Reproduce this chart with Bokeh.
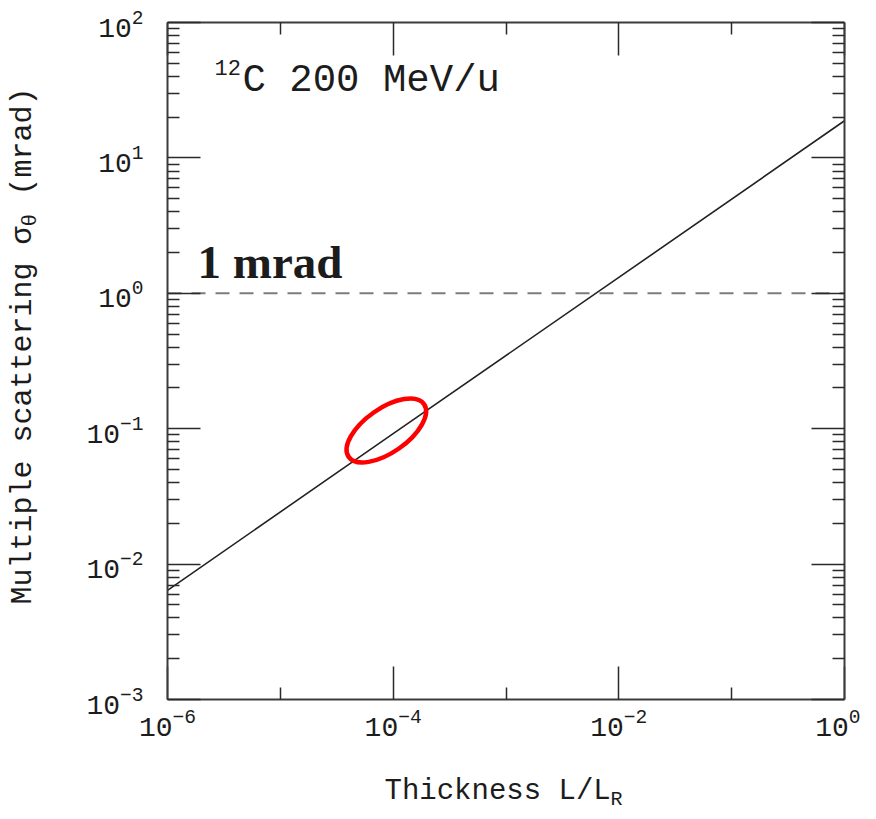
import math
from bokeh.plotting import figure
from bokeh.models import LogAxis, FixedTicker, Label, Range1d, CustomJSTickFormatter
from bokeh.embed import file_html
from bokeh.resources import INLINE

# ---------------- data ----------------
thickness = [1e-6, 1e-4, 1e-2, 1.0]          # L / L_R
sigma_theta = [0.0064, 0.092, 1.31, 18.8]    # multiple scattering (mrad)
ref_level = 1.0                               # 1 mrad reference line
highlight_x = [8.7e-5]                        # red ellipse centre
highlight_y = [0.097]

x_limits = (1e-6, 1.0)
y_limits = (1e-3, 1e2)
x_major_ticks = [1e-6, 1e-4, 1e-2, 1e0]
x_minor_ticks = [1e-5, 1e-3, 1e-1]
y_major_ticks = [1e-3, 1e-2, 1e-1, 1e0, 1e1, 1e2]
y_minor_ticks = [k * t for t in y_major_ticks[:-1] for k in range(2, 10)]

isotope_mass = "12"
beam_text = "C 200 MeV/u"
ref_text = "1 mrad"
x_label_main = "Thickness L/L"
x_label_sub = "R"
y_label_main = "Multiple scattering \u03c3"
y_label_sub = "\u03b8"
y_label_tail = "(mrad)"

MONO = "Liberation Mono"
INK = "#1c1c1c"

# ---------------- layout (pixels) ----------------
W, H = 860, 810
BOX_L, BOX_R, BOX_T, BOX_B = 167, 844, 22, 699   # plot box inside the canvas

x0, x1 = x_limits
y0, y1 = y_limits
lx0, lx1 = math.log10(x0), math.log10(x1)
ly0, ly1 = math.log10(y0), math.log10(y1)
dpx = (lx1 - lx0) / (BOX_R - BOX_L)
dpy = (ly1 - ly0) / (BOX_B - BOX_T)
x_view = (10 ** (lx0 - BOX_L * dpx), 10 ** (lx1 + (W - BOX_R) * dpx))
y_view = (10 ** (ly0 - (H - BOX_B) * dpy), 10 ** (ly1 + BOX_T * dpy))

p = figure(width=W, height=H,
           x_axis_type="log", y_axis_type="log",
           x_axis_location=None, y_axis_location=None,
           x_range=Range1d(*x_view), y_range=Range1d(*y_view),
           output_backend="svg", toolbar_location=None, min_border=0)
p.grid.visible = False
p.outline_line_color = None
p.background_fill_color = "white"
p.border_fill_color = "white"


def make_axis(ticker, fixed, bounds, show_labels, standoff=0):
    ax = LogAxis(fixed_location=fixed, bounds=bounds, ticker=ticker)
    ax.axis_line_color = "#3c3c3c"
    ax.axis_line_width = 2
    ax.major_tick_line_color = "#2a2a2a"
    ax.major_tick_line_width = 1.5
    ax.minor_tick_line_color = "#2a2a2a"
    ax.minor_tick_line_width = 1.5
    ax.major_tick_in = 33
    ax.major_tick_out = 0
    ax.minor_tick_in = 12
    ax.minor_tick_out = 0
    if show_labels:
        ax.major_label_text_font = MONO
        ax.major_label_text_font_size = "28px"
        ax.major_label_text_color = INK
        ax.major_label_standoff = standoff
    else:
        ax.formatter = CustomJSTickFormatter(code="return ''")
        ax.major_label_text_font_size = "1px"
        ax.major_label_standoff = 0
    return ax


p.add_layout(make_axis(FixedTicker(ticks=x_major_ticks, minor_ticks=x_minor_ticks),
                       y0, x_limits, True, 8), "below")
p.add_layout(make_axis(FixedTicker(ticks=y_major_ticks, minor_ticks=y_minor_ticks),
                       x0, y_limits, True, 24), "left")
p.add_layout(make_axis(FixedTicker(ticks=x_major_ticks, minor_ticks=x_minor_ticks),
                       y1, x_limits, False), "above")
p.add_layout(make_axis(FixedTicker(ticks=y_major_ticks, minor_ticks=y_minor_ticks),
                       x1, y_limits, False), "right")

# reference 1 mrad dashed line across the box
p.line([x0, x1], [ref_level, ref_level], line_color="#7c7c7c",
       line_width=2, line_dash="14 10")

# scattering curve
p.line(thickness, sigma_theta, line_color="#222222", line_width=1.6)

# red highlight ellipse
p.ellipse(x=highlight_x, y=highlight_y, width=92, height=44,
          width_units="screen", height_units="screen",
          angle=35, angle_units="deg",
          fill_color=None, line_color="#ff0000", line_width=4.5)


def add_text(text, x, y, dx, dy, font, size, style="normal", angle=0):
    p.add_layout(Label(x=x, y=y, x_offset=dx, y_offset=dy, text=text,
                       text_font=font, text_font_size=size, text_font_style=style,
                       text_color=INK, text_align="left", text_baseline="middle",
                       angle=angle, angle_units="deg"))


# beam annotation
add_text(isotope_mass, x0, y1, 47, -45, MONO, "22px")
add_text(beam_text, x0, y1, 75, -58, MONO, "39px")

# 1 mrad annotation
add_text(ref_text, x0, ref_level, 30, 31, "Liberation Serif", "47px", style="bold")

# x axis title
add_text(x_label_main, x0, y0, 217, -92, MONO, "29px")
add_text(x_label_sub, x0, y0, 443, -100, MONO, "20px")

# y axis title (rotated)
add_text(y_label_main, x0, y0, -145, 95, MONO, "30px", angle=90)
add_text(y_label_sub, x0, y0, -137, 473, MONO, "21px", angle=90)
add_text(y_label_tail, x0, y0, -145, 504, MONO, "30px", angle=90)

open("out.html", "w").write(file_html(p, INLINE))
